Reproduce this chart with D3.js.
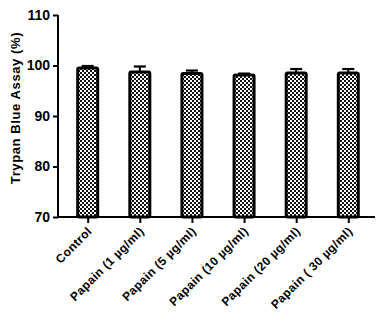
<!DOCTYPE html>
<html>
<head>
<meta charset="utf-8">
<script src="https://cdn.jsdelivr.net/npm/d3@7"></script>
<style>
  html, body { margin: 0; padding: 0; background: #fff; }
  svg { display: block; font-family: "Liberation Sans", Arial, sans-serif; }
</style>
</head>
<body>
<svg id="chart" width="379" height="323"></svg>
<script>
// Cell viability (Trypan Blue) per treatment: mean and SEM
const categories = ["Control", "Papain (1 µg/ml)", "Papain (5 µg/ml)", "Papain (10 µg/ml)", "Papain (20 µg/ml)", "Papain ( 30 µg/ml)"];
const means = [99.5, 98.7, 98.4, 98.1, 98.5, 98.5];
const errors = [0.4, 1.1, 0.6, 0.3, 0.8, 0.8];
const yTicks = [70, 80, 90, 100, 110];

const svg = d3.select("#chart");

// checkerboard fill used inside the bars
const defs = svg.append("defs");
const pat = defs.append("pattern")
  .attr("id", "checks").attr("patternUnits", "userSpaceOnUse")
  .attr("width", 4).attr("height", 4);
pat.append("rect").attr("width", 4).attr("height", 4).attr("fill", "#fff");
pat.append("rect").attr("x", 0).attr("y", 0).attr("width", 2).attr("height", 2).attr("fill", "#111");
pat.append("rect").attr("x", 2).attr("y", 2).attr("width", 2).attr("height", 2).attr("fill", "#111");

const axisX = 58, axisY = 217;
const y = d3.scaleLinear().domain([70, 110]).range([axisY, 15]);
const x = d3.scalePoint().domain(categories).range([87.7, 348.3]);
const barW = 20;

const g = svg.append("g");
const data = categories.map((c, i) => ({ c, m: means[i], e: errors[i] }));

// error bars (upper whisker above each bar)
g.selectAll("line.whisker").data(data).enter().append("line")
  .attr("x1", d => x(d.c)).attr("x2", d => x(d.c))
  .attr("y1", d => y(d.m)).attr("y2", d => y(d.m + d.e))
  .attr("stroke", "#000").attr("stroke-width", 2);
g.selectAll("line.cap").data(data).enter().append("line")
  .attr("x1", d => x(d.c) - 6).attr("x2", d => x(d.c) + 6)
  .attr("y1", d => y(d.m + d.e)).attr("y2", d => y(d.m + d.e))
  .attr("stroke", "#000").attr("stroke-width", 2.2);

// bars
g.selectAll("rect.bar").data(data).enter().append("rect")
  .attr("x", d => x(d.c) - barW / 2)
  .attr("y", d => y(d.m))
  .attr("width", barW)
  .attr("height", d => y(70) - y(d.m))
  .attr("rx", 1.5)
  .attr("fill", "url(#checks)")
  .attr("stroke", "#000").attr("stroke-width", 3);

// y axis
const yAxis = svg.append("g").attr("transform", `translate(${axisX},0)`)
  .call(d3.axisLeft(y).tickValues(yTicks).tickSize(5).tickPadding(3));
yAxis.select(".domain").attr("d", `M0,${y(110)}V${y(70)}`).attr("stroke-width", 2);
yAxis.selectAll(".tick line").attr("stroke-width", 2);
yAxis.selectAll(".tick text")
  .attr("font-size", 14).attr("font-weight", "bold").attr("fill", "#000")
  .attr("font-family", "'Liberation Sans', Arial, sans-serif");

// x axis
const xAxis = svg.append("g").attr("transform", `translate(0,${axisY})`)
  .call(d3.axisBottom(x).tickSize(6).tickFormat(""));
xAxis.select(".domain").attr("d", `M${axisX},0H375`).attr("stroke-width", 2);
xAxis.selectAll(".tick line").attr("stroke-width", 2);

// rotated category labels
svg.append("g").selectAll("text").data(categories).enter().append("text")
  .attr("transform", d => `translate(${x(d) + 5},${axisY + 15}) rotate(-45)`)
  .attr("text-anchor", "end")
  .attr("font-size", 12).attr("font-weight", "bold").attr("fill", "#000")
  .attr("letter-spacing", 0.4)
  .text(d => d);

// y axis title
svg.append("text")
  .attr("transform", `translate(20,108) rotate(-90)`)
  .attr("text-anchor", "middle")
  .attr("font-size", 13).attr("font-weight", "bold").attr("fill", "#000")
  .attr("letter-spacing", 0.6)
  .text("Trypan Blue Assay (%)");
</script>
</body>
</html>
